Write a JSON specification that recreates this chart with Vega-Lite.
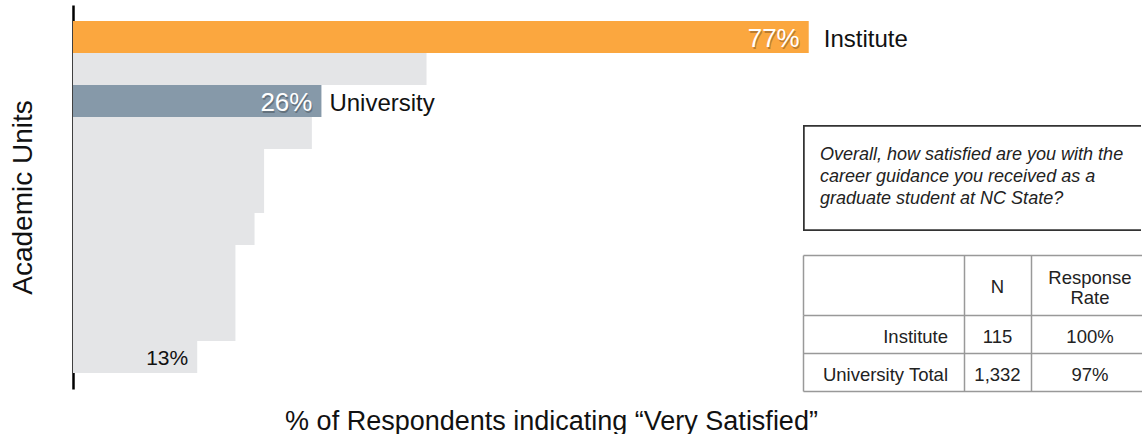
{
  "$schema": "https://vega.github.io/schema/vega-lite/v6.json",
  "padding": {"left": 9, "top": 5, "right": 0, "bottom": 0},
  "autosize": {"type": "pad"},
  "background": "white",
  "config": {"view": {"stroke": null}, "font": "Liberation Sans"},
  "datasets": {
    "bars": [
      {"unit": "Institute", "pct": 77, "group": "Institute", "pctLabel": "77%"},
      {"unit": "Unit B", "pct": 37, "group": "Other"},
      {"unit": "University", "pct": 26, "group": "University", "pctLabel": "26%"},
      {"unit": "Unit D", "pct": 25, "group": "Other"},
      {"unit": "Unit E", "pct": 20, "group": "Other"},
      {"unit": "Unit F", "pct": 20, "group": "Other"},
      {"unit": "Unit G", "pct": 19, "group": "Other"},
      {"unit": "Unit H", "pct": 17, "group": "Other"},
      {"unit": "Unit I", "pct": 17, "group": "Other"},
      {"unit": "Unit J", "pct": 17, "group": "Other"},
      {"unit": "Unit K", "pct": 13, "group": "Other", "pctLabel": "13%"}
    ],
    "question": [{"q": "Overall, how satisfied are you with the\ncareer guidance you received as a\ngraduate student at NC State?"}],
    "header": [{"n": "N", "rate": "Response\nRate"}],
    "table": [
      {"unit": "Institute", "n": "115", "rate": "100%"},
      {"unit": "University Total", "n": "1,332", "rate": "97%"}
    ]
  },
  "spacing": 0,
  "bounds": "flush",
  "hconcat": [
    {
      "width": 730,
      "height": 384,
      "data": {"name": "bars"},
      "encoding": {
        "y": {
          "field": "unit", "type": "nominal", "sort": null,
          "scale": {"paddingInner": 0, "paddingOuter": 0.5},
          "axis": {"title": "Academic Units", "labels": false, "ticks": false, "domain": true, "domainColor": "#000", "domainWidth": 2.5, "titleFontSize": 28, "titleFontWeight": "normal", "titleColor": "#111", "titlePadding": 36}
        },
        "x": {
          "field": "pct", "type": "quantitative",
          "scale": {"domain": [0, 76.4], "nice": false},
          "axis": {"title": "% of Respondents indicating “Very Satisfied”", "domain": false, "labels": false, "ticks": false, "grid": false, "titleFontSize": 27, "titleFontWeight": "normal", "titleColor": "#111", "titlePadding": 19, "titleX": 478, "titleAlign": "center"}
        }
      },
      "layer": [
        {
          "mark": {"type": "bar"},
          "encoding": {
            "color": {"field": "group", "type": "nominal", "scale": {"domain": ["Institute", "University", "Other"], "range": ["#FBA73F", "#8699A9", "#E4E5E7"]}, "legend": null}
          }
        },
        {
          "transform": [{"filter": "datum.group != 'Other'"}],
          "mark": {"type": "text", "align": "right", "baseline": "middle", "dx": -8, "dy": 4, "fontSize": 26, "color": "#000", "opacity": 0.25},
          "encoding": {"text": {"field": "pctLabel"}}
        },
        {
          "transform": [{"filter": "datum.pctLabel != null"}],
          "mark": {"type": "text", "align": "right", "baseline": "middle", "dx": -9, "dy": 2},
          "encoding": {
            "text": {"field": "pctLabel"},
            "color": {"condition": {"test": "datum.group == 'Other'", "value": "#111"}, "value": "white"},
            "size": {"condition": {"test": "datum.group == 'Other'", "value": 21}, "value": 26}
          }
        },
        {
          "transform": [{"filter": "datum.group == 'Institute'"}],
          "mark": {"type": "text", "align": "left", "baseline": "middle", "dx": 15, "dy": 3, "fontSize": 24, "color": "#111"},
          "encoding": {"text": {"field": "unit"}}
        },
        {
          "transform": [{"filter": "datum.group == 'University'"}],
          "mark": {"type": "text", "align": "left", "baseline": "middle", "dx": 8, "dy": 3, "fontSize": 24, "color": "#111"},
          "encoding": {"text": {"field": "unit"}}
        },
        {
          "data": {"values": [{}]},
          "mark": {"type": "rule", "color": "#000", "strokeWidth": 2.5},
          "encoding": {"x": {"datum": 0}, "x2": {"datum": 0.7}, "y": {"value": "height"}}
        }
      ]
    },
    {
      "spacing": 0,
      "bounds": "flush",
      "vconcat": [
        {
          "width": 338, "height": 120,
          "data": {"values": [{}]},
          "mark": {"type": "text"},
          "encoding": {"text": {"value": ""}}
        },
        {
          "width": 338, "height": 106,
          "data": {"name": "question"},
          "layer": [
            {
              "mark": {"type": "rect", "clip": true, "fill": "transparent", "stroke": "#333", "strokeWidth": 3.5},
              "encoding": {
                "x": {"datum": 0, "type": "quantitative", "scale": {"domain": [0, 1]}, "axis": null},
                "x2": {"datum": 2}
              }
            },
            {
              "mark": {"type": "text", "align": "left", "baseline": "middle", "lineBreak": "\n", "fontSize": 18, "fontStyle": "italic", "lineHeight": 22, "color": "#222", "dx": 17, "dy": -23},
              "encoding": {"text": {"field": "q"}, "x": {"datum": 0}}
            }
          ]
        },
        {
          "width": 338, "height": 24,
          "data": {"values": [{}]},
          "mark": {"type": "text"},
          "encoding": {"text": {"value": ""}}
        },
        {
          "width": 338, "height": 60,
          "data": {"name": "header"},
          "layer": [
            {
              "mark": {"type": "text", "fontSize": 18.5, "color": "#222", "baseline": "middle", "dy": 2},
              "encoding": {
                "text": {"field": "n"},
                "x": {"datum": 1.5, "type": "quantitative", "scale": {"domain": [0, 1, 2, 3], "range": [0, 161, 228, 346]},
                  "axis": {"orient": "top", "values": [0, 1, 2], "grid": true, "gridColor": "#999", "gridWidth": 1.5, "domain": true, "domainColor": "#999", "domainWidth": 1.5, "labels": false, "ticks": false, "title": null}}
              }
            },
            {
              "mark": {"type": "text", "fontSize": 18.5, "color": "#222", "baseline": "middle", "lineBreak": "\n", "lineHeight": 20, "dy": -7},
              "encoding": {"text": {"field": "rate"}, "x": {"datum": 2.5}}
            }
          ]
        },
        {
          "width": 338, "height": 76,
          "data": {"name": "table"},
          "encoding": {
            "y": {"field": "unit", "type": "nominal", "sort": null,
              "scale": {"type": "band", "paddingInner": 0, "paddingOuter": 0},
              "axis": {"bandPosition": 0, "grid": true, "gridColor": "#999", "gridWidth": 1.5, "domain": false, "labels": false, "ticks": false, "title": null}}
          },
          "layer": [
            {
              "mark": {"type": "text", "align": "right", "baseline": "middle", "fontSize": 18.5, "color": "#222", "dx": -16, "dy": 3},
              "encoding": {
                "text": {"field": "unit"},
                "x": {"datum": 1, "type": "quantitative", "scale": {"domain": [0, 1, 2, 3], "range": [0, 161, 228, 346]},
                  "axis": {"orient": "bottom", "values": [0, 1, 2], "grid": true, "gridColor": "#999", "gridWidth": 1.5, "domain": true, "domainColor": "#999", "domainWidth": 1.5, "labels": false, "ticks": false, "title": null}}
              }
            },
            {
              "mark": {"type": "text", "baseline": "middle", "fontSize": 18.5, "color": "#222", "dy": 3},
              "encoding": {"text": {"field": "n"}, "x": {"datum": 1.5}}
            },
            {
              "mark": {"type": "text", "baseline": "middle", "fontSize": 18.5, "color": "#222", "dy": 3},
              "encoding": {"text": {"field": "rate"}, "x": {"datum": 2.5}}
            }
          ]
        }
      ]
    }
  ]
}
